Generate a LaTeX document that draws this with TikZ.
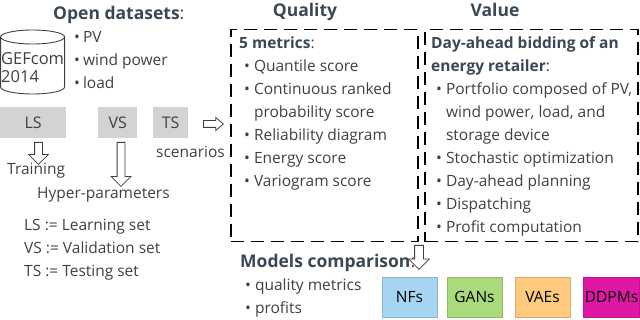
\documentclass[tikz,border=0pt]{standalone}
\usepackage{fontspec}
\setmainfont{Open Sans}
\usepackage{xcolor}
\usepackage{tikz}
\usetikzlibrary{shapes.arrows,positioning}
\definecolor{headc}{HTML}{3A4856}
\definecolor{bodyc}{HTML}{404040}
\definecolor{setgray}{HTML}{D3D3D3}
\definecolor{nfblue}{HTML}{A6D5F2}
\definecolor{gangreen}{HTML}{A9DA7C}
\definecolor{vaeorange}{HTML}{FFC97E}
\definecolor{ddpmpink}{HTML}{DF17A5}
\tikzset{
  txt/.style={inner sep=0pt, anchor=base west, text=bodyc, align=left,
              font=\fontsize{15.5}{23}\selectfont},
  head/.style={inner sep=0pt, anchor=base, text=headc,
               font=\fontsize{17.5}{21}\selectfont\bfseries},
  setbox/.style={rectangle, fill=setgray, inner sep=0pt, text=bodyc,
                 font=\fontsize{16}{23}\selectfont, minimum height=31pt},
  dashbox/.style={rectangle, draw=black, line width=1.5pt, dash pattern=on 13pt off 7pt,
                  inner sep=0pt, anchor=north west},
  hollowarr/.style={single arrow, draw=bodyc, line width=0.8pt, fill=white, anchor=tail,
                    inner xsep=0pt, inner ysep=3.5pt, single arrow head extend=6pt,
                    single arrow tip angle=90},
  model/.style={rectangle, draw=#1!85!black, fill=#1, line width=0.6pt, inner sep=0pt,
                minimum width=55pt, minimum height=40pt, text=black,
                font=\fontsize{15.5}{23}\selectfont},
  cyl/.style={draw=bodyc, line width=0.9pt},
}

\begin{document}
\begin{tikzpicture}[x=1pt, y=1pt]
\useasboundingbox (0,0) rectangle (640,-320);
\node[head, anchor=base west] (opendata) at (53,-20) {Open datasets\textmd{:}};
\draw[cyl] (0.6,-37) -- (0.6,-87) arc[start angle=180, end angle=360, x radius=32, y radius=7] -- (64.6,-37);
\draw[cyl] (32.6,-37) ellipse[x radius=32, y radius=7];
\node[txt, font=\fontsize{16.5}{18}\selectfont] (gefcom) at (1,-83) {GEFcom\\2014};
\node[txt] (sources) at (74,-43) {\begin{tabular}[t]{@{}l@{\hspace{3pt}}l@{}}
• & PV\\
• & wind power\\
• & load
\end{tabular}};
\node[setbox, minimum width=66pt, anchor=north west] (ls) at (0,-107) {LS};
\node[setbox, minimum width=39pt, anchor=north west] (vs) at (98,-107) {VS};
\node[setbox, minimum width=35pt, anchor=north west] (ts) at (153,-107) {TS};
\node[hollowarr, minimum height=20pt, inner ysep=3pt, single arrow head extend=3pt, single arrow tip angle=80] (tsarr) at (203,-124) {};
\node[txt] (scen) at (156,-158) {scenarios};
\node[hollowarr, minimum height=22pt, rotate=-90] (lsarr) at (38.5,-142) {};
\node[txt] (training) at (7,-175) {Training};
\node[hollowarr, minimum height=44pt, rotate=-90] (vsarr) at (121,-142) {};
\node[txt] (hyper) at (37,-199) {Hyper-parameters};
\node[txt] (legend) at (24,-277) {LS := Learning set\\VS := Validation set\\TS := Testing set};

\node[head] (quality) at (305,-17) {Quality};
\node[dashbox, minimum width=187pt, minimum height=212pt] (qualbox) at (230,-29) {};
\node[txt] (metrics) at (239,-49) {\begin{tabular}[t]{@{\hspace{5pt}}l@{\hspace{4pt}}l@{}}
\multicolumn{2}{@{}l@{}}{\textcolor{headc}{\bfseries 5 metrics}:}\\
• & Quantile score\\
• & Continuous ranked\\
  & probability score\\
• & Reliability diagram\\
• & Energy score\\
• & Variogram score
\end{tabular}};

\node[head] (value) at (495,-17) {Value};
\node[dashbox, minimum width=213pt, minimum height=212pt] (valbox) at (424,-29) {};
\node[txt] (bidding) at (431,-49) {\begin{tabular}[t]{@{\hspace{5pt}}l@{\hspace{4pt}}l@{}}
\multicolumn{2}{@{}l@{}}{\textcolor{headc}{\bfseries Day-ahead bidding of an}}\\
\multicolumn{2}{@{}l@{}}{\textcolor{headc}{\bfseries energy retailer}:}\\
• & Portfolio composed of PV,\\
  & wind power, load, and\\
  & storage device\\
• & Stochastic optimization\\
• & Day-ahead planning\\
• & Dispatching\\
• & Profit computation
\end{tabular}};

\node[head, anchor=base west] (compare) at (240,-268) {Models comparison\textmd{:}};
\node[hollowarr, minimum height=24pt, inner ysep=4pt, rotate=-90] (comparr) at (419,-245) {};
\node[txt] (criteria) at (240,-291) {\begin{tabular}[t]{@{\hspace{5pt}}l@{\hspace{4pt}}l@{}}
• & quality metrics\\
• & profits
\end{tabular}};
\node[model=nfblue] (nfs) at (409.5,-297) {NFs};
\node[model=gangreen] (gans) at (474.5,-297) {GANs};
\node[model=vaeorange] (vaes) at (542.5,-297) {VAEs};
\node[model=ddpmpink, minimum width=56pt] (ddpms) at (611.5,-297) {DDPMs};
\end{tikzpicture}
\end{document}
